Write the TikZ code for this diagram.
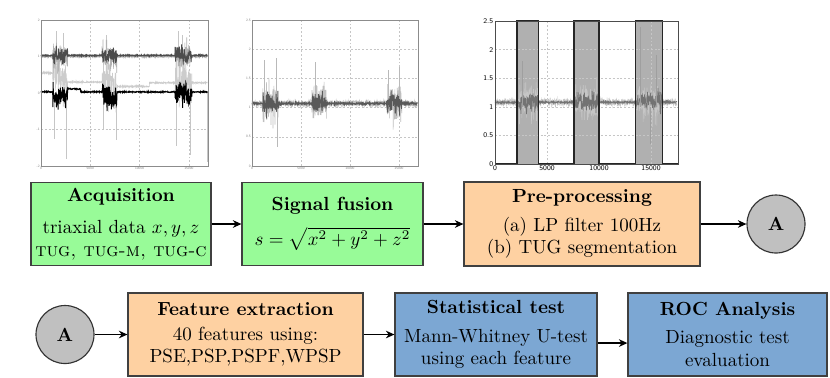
\documentclass[tikz,border=0pt]{standalone}
\usetikzlibrary{arrows.meta}
\definecolor{boxgreen}{RGB}{152,251,152}
\definecolor{boxorange}{RGB}{254,209,162}
\definecolor{boxblue}{RGB}{124,167,211}
\definecolor{circgray}{RGB}{192,192,192}
\definecolor{framegray}{RGB}{140,140,140}
\def\U{0.5263pt}
\begin{document}
\begin{tikzpicture}[x=0.5263pt,y=-0.5263pt,
  box/.style={draw=black!75, line width=0.6pt, align=center, inner sep=2pt},
  circ/.style={circle, draw=black!80, line width=0.6pt, fill=circgray, minimum size=58*\U, inner sep=0pt},
  arr/.style={-{Stealth[length=4.5pt,width=4pt]}, line width=0.9pt},
  gridl/.style={dash pattern=on 1pt off 1pt, gray!45, line width=0.2pt},
  tinylab/.style={font=\sffamily\fontsize{1.8}{2}\selectfont, text=gray, inner sep=0.5pt},
  smalllab/.style={font=\sffamily\fontsize{3.8}{4.5}\selectfont, inner sep=0.8pt},
  declare function={
    bA(\t)=(\t>1.2)*(\t<2.7)+(\t>6.2)*(\t<7.7)+(\t>13.6)*(\t<15.3);
    bB(\t)=(\t>1.1)*(\t<2.7)+(\t>6.1)*(\t<7.6)+(\t>13.8)*(\t<15.3);
    bC(\t)=(\t>2.3)*(\t<4.2)+(\t>7.7)*(\t<9.9)+(\t>13.6)*(\t<16.0);
    mA(\t)=(\t<2)*0.55+(\t>=2)*(\t<7)*0.3+(\t>=7)*(\t<11)*0.18+(\t>=11)*0.28;
    lA(\t)=0.03+(\t>2.7)*(\t<4)*0.08;
  }]
\pgfmathsetseed{42}
\fill[white] (0,0) rectangle (830,377);
\useasboundingbox (0,0) rectangle (830,377);

% ---------- plot 1 : acquisition ----------
\begin{scope}[shift={(41,93)}, x=5.189pt, y=19.21pt]
  \foreach \gx in {5,10,15} \draw[gridl] (\gx,-2) -- (\gx,2);
  \foreach \gy in {-1,1} \draw[gridl] (0,\gy) -- (16.94,\gy);
  \draw[gray!45, line width=0.3pt] (1.3,0) -- (1.3,-1.25) (2.6,0) -- (2.6,-1.8) (6.3,0) -- (6.3,-1.0)
    (7.6,0) -- (7.6,-1.3) (13.7,0) -- (13.7,-1.45) (15.1,0) -- (15.1,-1.7) (16.9,0) -- (16.9,-1.9)
    (1.6,1) -- (1.6,1.7) (2.3,1) -- (2.3,1.65) (6.6,1) -- (6.6,1.6) (13.9,1) -- (13.9,1.7) (14.3,1) -- (14.3,1.6);
  \draw[gray!40, line width=0.3pt] plot[domain=0:16.9, samples=900] (\x,{mA(\x)+0.02*rand+bA(\x)*(0.45*rand+0.5*rand*rand)});
  \draw[gray!60, line width=0.3pt] plot[domain=0:16.9, samples=900] (\x,{1.0+0.02*rand+bA(\x)*(0.25*rand+0.35*rand*rand)});
  \draw[black, line width=0.5pt] plot[domain=0:16.9, samples=700] (\x,{lA(\x)+0.015*rand+bA(\x)*(0.25*rand+0.3*rand*rand-0.1)});
  \draw[black!70, line width=0.5pt] plot[domain=0:16.9, samples=700] (\x,{1.03+0.015*rand+bA(\x)*(0.15*rand+0.2*rand*rand)});
  \draw[framegray, line width=0.4pt] (0,-2) rectangle (16.94,2);
  \foreach \v in {-2,-1,0,1,2} \node[tinylab, anchor=east] (yA\v) at (0,\v) {\v};
  \foreach \v/\n in {0/0,5/5000,10/10000,15/15000} \node[tinylab, anchor=north] (xA\v) at (\v,-2) {\n};
\end{scope}

% ---------- plot 2 : signal fusion ----------
\begin{scope}[shift={(252,166)}, x=5.158pt, y=30.74pt]
  \foreach \gx in {5,10,15} \draw[gridl] (\gx,0) -- (\gx,2.5);
  \foreach \gy in {0.5,1,1.5,2} \draw[gridl] (0,\gy) -- (16.94,\gy);
  \draw[gray!50, line width=0.3pt] plot[domain=0:16.9, samples=900] (\x,{1.07+0.05*rand+bB(\x)*(0.2*rand+0.35*rand*rand)});
  \draw[gray!55, line width=0.3pt] (2.6,1) -- (2.6,0.32) (2.5,1) -- (2.5,1.85) (1.3,1) -- (1.3,1.82)
    (6.5,1) -- (6.5,1.78) (15.0,1) -- (15.0,1.7) (13.9,1) -- (13.9,1.65);
  \draw[black!65, line width=0.45pt] plot[domain=0:16.9, samples=700] (\x,{1.07+0.015*rand+bB(\x)*(0.12*rand+0.2*rand*rand)});
  \draw[framegray, line width=0.4pt] (0,0) rectangle (16.94,2.5);
  \foreach \v in {0,0.5,1,1.5,2,2.5} \node[tinylab, anchor=east] (yB\v) at (0,\v) {\v};
  \foreach \v/\n in {0/0,5/5000,10/10000,15/15000} \node[tinylab, anchor=north] (xB\v) at (\v,0) {\n};
\end{scope}

% ---------- plot 3 : pre-processing ----------
\begin{scope}[shift={(495,164)}, x=5.474pt, y=30.10pt]
  \fill[gray!62] (2.1,0) rectangle (4.2,2.5) (7.6,0) rectangle (10,2.5) (13.5,0) rectangle (16.1,2.5);
  \foreach \gx in {5,10,15} \draw[gridl] (\gx,0) -- (\gx,2.5);
  \foreach \gy in {0.5,1,1.5,2} \draw[gridl] (0,\gy) -- (17.6,\gy);
  \draw[gray!45, line width=0.3pt] plot[domain=0:17.5, samples=900] (\x,{1.08+0.06*rand+bC(\x)*(0.2*rand+0.3*rand*rand)});
  \draw[black!55, line width=0.4pt] plot[domain=0:17.5, samples=700] (\x,{1.08+0.015*rand+bC(\x)*(0.1*rand+0.18*rand*rand)});
  \draw[gray!75, line width=0.3pt] (2.6,1) -- (2.6,1.8) (14.0,1) -- (14.0,2.4) (15.5,1) -- (15.5,1.9) (14.9,1) -- (14.9,0.35);
  \draw[black!85, line width=0.8pt] (0,0) -- (2.1,0) -- (2.1,2.5) -- (4.2,2.5) -- (4.2,0) -- (7.6,0) -- (7.6,2.5)
    -- (10,2.5) -- (10,0) -- (13.5,0) -- (13.5,2.5) -- (16.1,2.5) -- (16.1,0) -- (17.6,0);
  \draw[black!70, line width=0.4pt] (0,0) rectangle (17.6,2.5);
  \foreach \v in {0,0.5,1,1.5,2,2.5} \node[smalllab, anchor=east] (yC\v) at (0,\v) {\v};
  \foreach \v/\n in {0/0,5/5000,10/10000,15/15000} \node[smalllab, anchor=north] (xC\v) at (\v,0) {\n};
\end{scope}

% ---------- row 1 ----------
\node[box, fill=boxgreen, minimum width=180*\U, minimum height=83*\U] (acq) at (121,224)
  {\textbf{Acquisition}\\[5pt] triaxial data $x,y,z$\\ \textsc{tug, tug-m, tug-c}};
\node[box, fill=boxgreen, minimum width=181*\U, minimum height=83*\U] (sf) at (332.5,224)
  {\textbf{Signal fusion}\\[6pt] $s=\sqrt{x^2+y^2+z^2}$};
\node[box, fill=boxorange, minimum width=236*\U, minimum height=84*\U] (pp) at (582,224)
  {\textbf{Pre-processing}\\[3pt] (a) LP filter 100Hz\\ (b) TUG segmentation};
\node[circ] (a1) at (776,224) {\textbf{A}};

\draw[arr] (acq) -- (sf);
\draw[arr] (sf) -- (pp);
\draw[arr] (pp) -- (a1);

% ---------- row 2 ----------
\node[circ] (a2) at (65,334.5) {\textbf{A}};
\node[box, fill=boxorange, minimum width=235*\U, minimum height=83*\U] (fe) at (245.5,334.5)
  {\textbf{Feature extraction}\\[1pt] 40 features using:\\ PSE,PSP,PSPF,WPSP};
\node[box, fill=boxblue, minimum width=202*\U, minimum height=83*\U] (st) at (496,334.5)
  {\textbf{Statistical test}\\[3pt] Mann-Whitney U-test\\ using each feature};
\node[box, fill=boxblue, minimum width=199*\U, minimum height=83*\U] (roc) at (727.5,334.5)
  {\textbf{ROC Analysis}\\[3pt] Diagnostic test\\ evaluation};

\draw[arr] (a2) -- (fe);
\draw[arr] (fe) -- (st);
\draw[arr] ([yshift=-4.5pt]st.east) -- ([yshift=-4.5pt]roc.west);
\end{tikzpicture}
\end{document}
